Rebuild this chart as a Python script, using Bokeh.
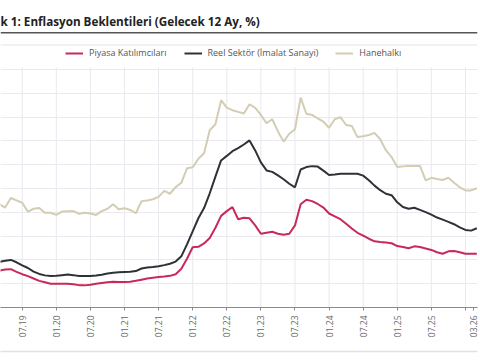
import math
from bokeh.plotting import figure
from bokeh.models import Range1d, FixedTicker, Grid, Span, Label, Legend, LegendItem, LinearAxis
from bokeh.embed import file_html
from bokeh.resources import INLINE

# month index: 0 = 07.19
months = list(range(-4, 81))

piyasa = [15.5, 16.0, 16.1, 15.0, 14.0, 13.2, 12.2, 11.2, 10.6, 10.0,
          10.0, 10.0, 10.0, 9.8, 9.4, 9.3, 9.6, 10.0, 10.3, 10.6,
          10.8, 10.7, 10.7, 10.8, 11.2, 11.7, 12.2, 12.5, 12.8, 13.0,
          13.3, 14.0, 16.3, 20.5, 25.3, 25.5, 26.9, 29.2, 33.5, 38.5,
          40.5, 42.2, 37.1, 37.7, 37.5, 34.5, 31.0, 31.4, 31.8, 31.0,
          30.6, 31.0, 34.5, 43.4, 45.3, 44.7, 43.5, 42.0, 39.5, 38.3,
          37.1, 35.2, 33.2, 31.4, 30.2, 28.9, 27.8, 27.5, 27.3, 27.0,
          25.8, 25.4, 24.9, 25.7, 25.4, 24.8, 24.2, 23.2, 22.6, 23.6,
          23.7, 23.2, 22.6, 22.6, 22.6]

reel = [19.2, 19.6, 20.0, 19.0, 17.7, 16.6, 15.1, 14.1, 13.5, 13.2,
        13.3, 13.6, 13.9, 13.6, 13.2, 13.2, 13.2, 13.4, 13.8, 14.3,
        14.6, 14.8, 14.9, 15.0, 15.3, 16.4, 16.8, 17.0, 17.3, 17.8,
        18.4, 19.3, 21.5, 26.5, 32.0, 37.5, 41.8, 48.0, 55.0, 61.8,
        63.7, 65.7, 67.0, 68.5, 70.2, 66.0, 61.0, 57.6, 57.0, 55.5,
        53.9, 52.0, 50.5, 58.0, 59.0, 59.4, 59.2, 57.5, 55.7, 55.9,
        56.2, 56.2, 56.2, 56.2, 55.4, 53.5, 51.2, 49.3, 47.8, 47.2,
        44.2, 42.2, 41.5, 41.9, 41.0, 40.1, 39.0, 37.8, 36.9, 36.0,
        35.0, 33.7, 32.6, 32.3, 33.3]

hane = [43.4, 42.0, 46.0, 45.0, 44.0, 40.3, 41.5, 41.8, 39.8, 39.8,
        38.9, 40.3, 40.4, 40.5, 39.4, 39.8, 39.5, 38.9, 40.5, 41.5,
        43.4, 41.3, 41.7, 41.0, 39.6, 44.7, 45.0, 45.5, 46.5, 49.0,
        47.8, 50.6, 52.4, 58.5, 58.9, 62.5, 64.8, 74.5, 77.0, 87.1,
        84.0, 82.9, 82.2, 81.5, 85.4, 83.9, 80.9, 77.5, 79.1, 74.0,
        69.7, 73.0, 74.9, 88.2, 81.4, 80.9, 79.5, 78.1, 75.5, 79.1,
        80.0, 76.7, 76.3, 71.6, 72.0, 72.5, 73.4, 70.7, 66.1, 63.2,
        59.0, 59.3, 59.5, 59.5, 59.5, 53.4, 54.5, 54.0, 53.6, 54.5,
        52.4, 50.5, 49.2, 49.2, 50.1]

tick_months = [0, 6, 12, 18, 24, 30, 36, 42, 48, 54, 60, 66, 72, 78, 79.4]
tick_labels = ["07.19", "01.20", "07.20", "01.21", "07.21", "01.22", "07.22",
               "01.23", "07.23", "01.24", "07.24", "01.25", "07.25", "", "03.26"]
grid_months = [0, 6, 12, 18, 24, 30, 36, 42, 48, 54, 60, 66, 72, 78]
y_grid = [0, 10, 20, 30, 40, 50, 60, 70, 80, 90, 100]

title_text = "k 1: Enflasyon Beklentileri (Gelecek 12 Ay, %)"
names = ["Piyasa Katılımcıları", "Reel Sektör (İmalat Sanayi)", "Hanehalkı"]
colors = ["#c8295a", "#2e3235", "#d2cdb3"]

FONT = "Open Sans"

p = figure(width=480, height=360, output_backend="svg", toolbar_location=None,
           x_range=Range1d(-3.82, 80.12), y_range=Range1d(0, 129.0),
           y_axis_location=None,
           min_border_left=0, min_border_right=3, min_border_top=0, min_border_bottom=53)
p.outline_line_color = None
p.background_fill_color = "white"
p.border_fill_color = "white"
for g in p.grid:
    g.visible = False

# horizontal grid
p.add_layout(Grid(dimension=1, ticker=FixedTicker(ticks=y_grid),
                  grid_line_color="#e9e9ef", grid_line_width=1))
# vertical grid (limited to plot area)
p.segment(x0=grid_months, x1=grid_months, y0=[0] * len(grid_months),
          y1=[101] * len(grid_months), line_color="#e9e9ef", line_width=1)

r_h = p.line(months, hane, line_color=colors[2], line_width=2)
r_r = p.line(months, reel, line_color=colors[1], line_width=2)
r_p = p.line(months, piyasa, line_color=colors[0], line_width=2)

# x axis
ax = p.xaxis[0]
ax.ticker = FixedTicker(ticks=tick_months)
ax.major_label_overrides = {m: l for m, l in zip(tick_months, tick_labels)}
ax.major_label_orientation = math.pi / 2
ax.axis_line_color = "#8a8a8a"
ax.major_tick_line_color = "#8a8a8a"
ax.major_tick_out = 3
ax.major_tick_in = 0
ax.minor_tick_line_color = None
ax.major_label_text_font = FONT
ax.major_label_text_font_size = "8.5px"
ax.major_label_text_color = "#666666"
ax.major_label_standoff = 5
ax.axis_label = " "
ax.axis_label_text_font_size = "5px"
ax.axis_label_standoff = 2

# faint bottom rule (an empty axis stacked under the date axis)
rule = LinearAxis(ticker=FixedTicker(ticks=[]), axis_line_color="#e2e2e2",
                  axis_line_width=1.5, major_tick_line_color=None,
                  minor_tick_line_color=None, major_label_text_font_size="0px")
p.add_layout(rule, "below")

# title + rules
p.add_layout(Label(x=0, y=287, x_units="screen", y_units="screen", text=title_text,
                   text_font=FONT, text_font_style="bold", text_font_size="11.7px",
                   text_color="#222222", text_baseline="middle"))
p.add_layout(Span(location=115.5, dimension="width", line_color="#555555", line_width=1.5))
p.add_layout(Span(location=110.3, dimension="width", line_color="#eeeeee", line_width=1.5))

legend = Legend(items=[LegendItem(label=names[0], renderers=[r_p]),
                       LegendItem(label=names[1], renderers=[r_r]),
                       LegendItem(label=names[2], renderers=[r_h])],
                orientation="horizontal", location=(65, 248), padding=0, margin=0,
                spacing=17, glyph_width=18, glyph_height=10, label_standoff=6,
                label_height=10, label_text_font=FONT, label_text_font_size="9px",
                label_text_color="#555555", label_text_baseline="middle",
                background_fill_alpha=0, border_line_alpha=0)
p.add_layout(legend)

open("out.html", "w").write(file_html(p, INLINE))
